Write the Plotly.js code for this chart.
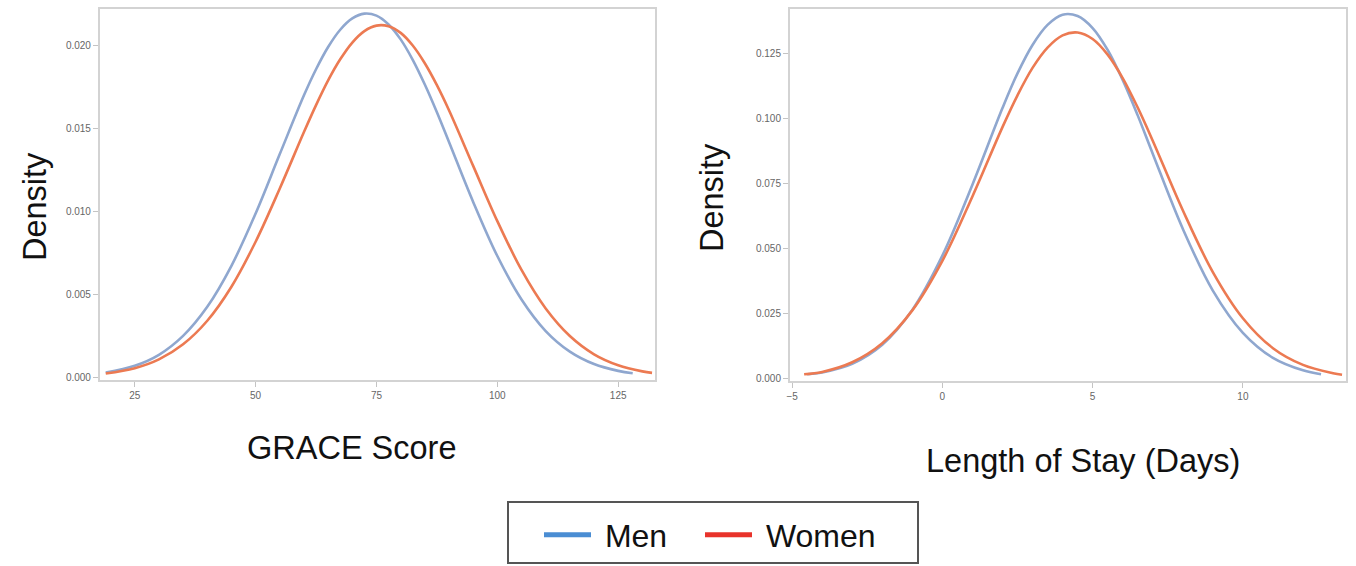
<!DOCTYPE html>
<html>
<head>
<meta charset="utf-8">
<script src="https://cdn.plot.ly/plotly-3.0.1.min.js"></script>
<style>html,body{margin:0;padding:0;background:#fff;}#chart{width:1356px;height:566px;}</style>
</head>
<body>
<div id="chart"></div>
<script>
// GRACE Score density
const graceMenX = [19, 25, 30, 35, 40, 45, 50, 55, 60, 62.5, 65, 67.5, 70, 72.5, 75, 77.5, 80, 82.5, 85, 87.5, 90, 95, 100, 105, 110, 115, 120, 125, 128];
const graceMenY = [0.00027, 0.00068, 0.00134, 0.00248, 0.00423, 0.00670, 0.00985, 0.01343, 0.01697, 0.01854, 0.01988, 0.02092, 0.02160, 0.02189, 0.02177, 0.02124, 0.02034, 0.01911, 0.01762, 0.01595, 0.01416, 0.01055, 0.00729, 0.00467, 0.00277, 0.00153, 0.00078, 0.00037, 0.00023];
const graceWomenX = [19, 25, 30, 35, 40, 45, 50, 55, 60, 62.5, 65, 67.5, 70, 72.5, 75, 77.5, 80, 82.5, 85, 87.5, 90, 95, 100, 105, 110, 115, 120, 125, 130, 132];
const graceWomenY = [0.00021, 0.00053, 0.00106, 0.00197, 0.00339, 0.00544, 0.00815, 0.01136, 0.01476, 0.01638, 0.01787, 0.01914, 0.02015, 0.02084, 0.02117, 0.02113, 0.02073, 0.01997, 0.01890, 0.01758, 0.01607, 0.01272, 0.00939, 0.00645, 0.00413, 0.00247, 0.00137, 0.00071, 0.00034, 0.00025];

// Length of stay density
const losMenX = [-4.5, -4, -3, -2, -1, 0, 1, 2, 2.5, 3, 3.5, 4, 4.5, 5, 5.5, 6, 6.5, 7, 8, 9, 10, 11, 12, 12.6];
const losMenY = [0.0018, 0.0025, 0.0058, 0.0131, 0.0265, 0.0473, 0.0745, 0.1039, 0.1172, 0.1281, 0.1358, 0.1397, 0.1392, 0.1346, 0.1262, 0.1147, 0.1011, 0.0864, 0.0576, 0.0339, 0.0177, 0.0081, 0.0033, 0.0018];
const losWomenX = [-4.6, -4, -3, -2, -1, 0, 1, 2, 2.5, 3, 3.5, 4, 4.5, 5, 5.5, 6, 6.5, 7, 8, 9, 10, 11, 12, 13, 13.3];
const losWomenY = [0.0018, 0.0027, 0.0064, 0.0137, 0.0263, 0.0453, 0.0700, 0.0966, 0.1088, 0.1193, 0.1271, 0.1318, 0.1329, 0.1304, 0.1244, 0.1154, 0.1041, 0.0914, 0.0647, 0.0410, 0.0233, 0.0118, 0.0054, 0.0022, 0.0016];

const seriesNames = ["Men", "Women"];
const curveColors = ["#8fa7cf", "#ec7a52"];
const legendColors = ["#4a8dd3", "#e8332b"];

const traces = [
  {x: graceMenX, y: graceMenY, xaxis: "x", yaxis: "y", type: "scatter", mode: "lines", line: {color: curveColors[0], width: 2.6, shape: "spline"}, showlegend: false, name: seriesNames[0]},
  {x: graceWomenX, y: graceWomenY, xaxis: "x", yaxis: "y", type: "scatter", mode: "lines", line: {color: curveColors[1], width: 2.6, shape: "spline"}, showlegend: false, name: seriesNames[1]},
  {x: losMenX, y: losMenY, xaxis: "x2", yaxis: "y2", type: "scatter", mode: "lines", line: {color: curveColors[0], width: 2.6, shape: "spline"}, showlegend: false, name: seriesNames[0]},
  {x: losWomenX, y: losWomenY, xaxis: "x2", yaxis: "y2", type: "scatter", mode: "lines", line: {color: curveColors[1], width: 2.6, shape: "spline"}, showlegend: false, name: seriesNames[1]},
  {x: [null], y: [null], xaxis: "x", yaxis: "y", type: "scatter", mode: "lines", line: {color: legendColors[0], width: 5}, name: "\u00a0" + seriesNames[0], showlegend: true, legend: "legend"},
  {x: [null], y: [null], xaxis: "x", yaxis: "y", type: "scatter", mode: "lines", line: {color: legendColors[1], width: 5}, name: "\u00a0" + seriesNames[1], showlegend: true, legend: "legend2"}
];

const axisCommon = {
  showline: true, mirror: true, linecolor: "#d3d3d3", linewidth: 2,
  ticks: "outside", ticklen: 5, tickwidth: 1, tickcolor: "#c4c4c4",
  showgrid: false, zeroline: false,
  tickfont: {family: "Liberation Sans, Arial, sans-serif", size: 10, color: "#666"}
};

const titleFont = {family: "Liberation Sans, Arial, sans-serif", size: 32.5, color: "#111"};
const legendFont = {family: "Liberation Sans, Arial, sans-serif", size: 32, color: "#111"};

const layout = {
  width: 1356, height: 566,
  margin: {l: 0, r: 0, t: 0, b: 0},
  paper_bgcolor: "#fff", plot_bgcolor: "#fff",
  font: {family: "Liberation Sans, Arial, sans-serif"},
  xaxis: Object.assign({}, axisCommon, {domain: [0.0737, 0.4830], range: [17.8, 132.6], tick0: 25, dtick: 25, anchor: "y"}),
  yaxis: Object.assign({}, axisCommon, {domain: [0.3286, 0.9841], range: [-0.00018, 0.02217], dtick: 0.005, tickformat: ".3f", anchor: "x"}),
  xaxis2: Object.assign({}, axisCommon, {domain: [0.5826, 0.9926], range: [-5.07, 13.43], tick0: -5, dtick: 5, anchor: "y2"}),
  yaxis2: Object.assign({}, axisCommon, {domain: [0.3269, 0.9841], range: [-0.00077, 0.1419], dtick: 0.025, tickformat: ".3f", anchor: "x2"}),
  showlegend: true,
  legend: {
    orientation: "h", x: 539/1356, xanchor: "left", y: 1 - 535/566, yanchor: "middle",
    borderwidth: 0, bgcolor: "rgba(0,0,0,0)", font: legendFont, itemwidth: 47
  },
  legend2: {
    orientation: "h", x: 700/1356, xanchor: "left", y: 1 - 535/566, yanchor: "middle",
    borderwidth: 0, bgcolor: "rgba(0,0,0,0)", font: legendFont, itemwidth: 47
  },
  shapes: [
    {type: "rect", xref: "paper", yref: "paper", x0: 508/1356, x1: 918/1356, y0: 1 - 563/566, y1: 1 - 502/566, line: {color: "#555", width: 2}, fillcolor: "rgba(0,0,0,0)"}
  ],
  annotations: [
    {text: "Density", xref: "paper", yref: "paper", x: 35/1356, y: 1 - 207/566, textangle: -90, showarrow: false, font: titleFont, xanchor: "center", yanchor: "middle"},
    {text: "Density", xref: "paper", yref: "paper", x: 712/1356, y: 1 - 198/566, textangle: -90, showarrow: false, font: titleFont, xanchor: "center", yanchor: "middle"},
    {text: "GRACE Score", xref: "paper", yref: "paper", x: 352/1356, y: 1 - 448/566, showarrow: false, font: titleFont, xanchor: "center", yanchor: "middle"},
    {text: "Length of Stay (Days)", xref: "paper", yref: "paper", x: 1083/1356, y: 1 - 461/566, showarrow: false, font: titleFont, xanchor: "center", yanchor: "middle"}
  ]
};

Plotly.newPlot("chart", traces, layout, {displayModeBar: false, staticPlot: true});
</script>
</body>
</html>
